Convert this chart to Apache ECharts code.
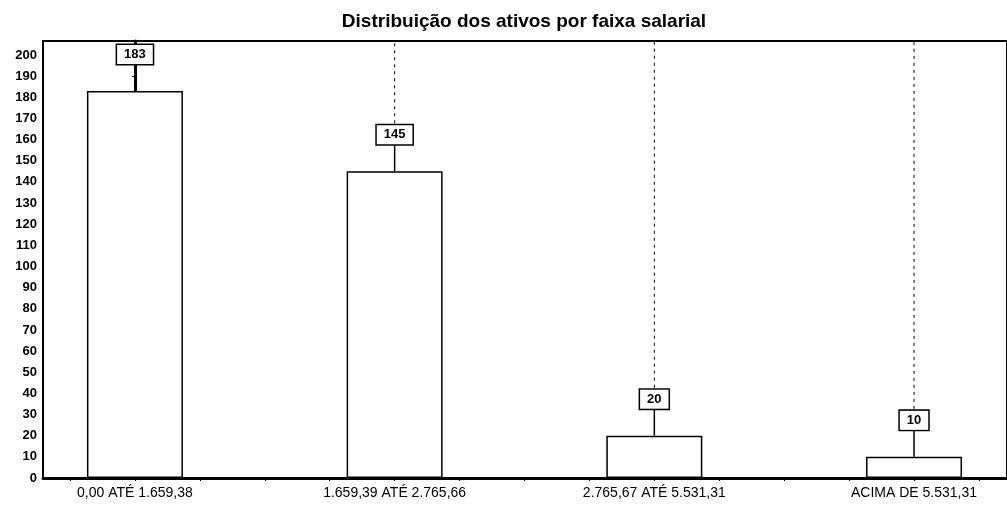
<!DOCTYPE html>
<html>
<head>
<meta charset="utf-8">
<script src="https://cdn.jsdelivr.net/npm/echarts@6/dist/echarts.min.js"></script>
<style>
  html, body { margin: 0; padding: 0; background: #fff; }
  #chart { width: 1007px; height: 506px; }
</style>
</head>
<body>
<div id="chart"></div>
<script>
// faixas salariais e quantidade de ativos
const categories = ['0,00 ATÉ 1.659,38', '1.659,39 ATÉ 2.765,66', '2.765,67 ATÉ 5.531,31', 'ACIMA DE 5.531,31'];
const values = [183, 145, 20, 10];
const yTicks = [0, 10, 20, 30, 40, 50, 60, 70, 80, 90, 100, 110, 120, 130, 140, 150, 160, 170, 180, 190, 200];
const xMinorTicks = [-0.25, 0, 0.25, 0.5, 0.75, 1, 1.25, 1.5, 1.75, 2, 2.25, 2.5, 2.75, 3, 3.25];

const points = values.map((v, i) => [i, v]);
const font = 'Liberation Sans, Arial, sans-serif';

const chart = echarts.init(document.getElementById('chart'));
chart.setOption({
  animation: false,
  title: {
    text: 'Distribuição dos ativos por faixa salarial',
    left: 519,
    top: 7,
    textAlign: 'center',
    textStyle: { fontFamily: font, fontSize: 19, fontWeight: 'bold', color: '#000' }
  },
  grid: {
    left: 43, right: 0, top: 41, bottom: 28,
    show: true, borderColor: '#000', borderWidth: 2, backgroundColor: '#fff'
  },
  xAxis: {
    type: 'value',
    min: -0.354,
    max: 3.358,
    splitLine: { show: false },
    axisLine: { show: true, lineStyle: { color: '#000', width: 3 } },
    axisTick: { show: true, length: 3, customValues: xMinorTicks, lineStyle: { color: '#000' } },
    axisLabel: {
      customValues: [0, 1, 2, 3],
      formatter: v => categories[Math.round(v)],
      color: '#000', fontFamily: font, fontSize: 14, margin: 8
    }
  },
  yAxis: {
    type: 'value',
    min: 0,
    max: 206.6,
    interval: 10,
    splitLine: { show: false },
    axisLine: { show: true, lineStyle: { color: '#000', width: 3 } },
    axisTick: { show: true, length: 3, customValues: yTicks, lineStyle: { color: '#000' } },
    axisLabel: {
      customValues: yTicks,
      color: '#000', fontFamily: font, fontSize: 13, fontWeight: 'bold', margin: 6
    }
  },
  series: [
    {
      // linhas de ligação: sólida até o rótulo, tracejada até o topo
      type: 'custom',
      data: points,
      z: 1,
      silent: true,
      renderItem: (params, api) => {
        const p = api.coord([api.value(0), api.value(1)]);
        const top = params.coordSys.y;
        const children = [{
          type: 'line',
          shape: { x1: p[0], y1: p[1], x2: p[0], y2: p[1] - 27 },
          style: { stroke: '#000', lineWidth: 1.5 }
        }];
        if (p[1] - 48 > top) {
          children.push({
            type: 'line',
            shape: { x1: p[0], y1: p[1] - 48, x2: p[0], y2: top },
            style: { stroke: '#000', lineWidth: 1, lineDash: [3, 4] }
          });
        }
        return { type: 'group', children };
      }
    },
    {
      type: 'bar',
      data: points,
      barWidth: 96,
      z: 2,
      itemStyle: { color: '#fff', borderColor: '#000', borderWidth: 1.5 },
      label: {
        show: true,
        position: 'top',
        distance: 27,
        formatter: p => p.value[1],
        color: '#000',
        fontFamily: font,
        fontSize: 13,
        fontWeight: 'bold',
        backgroundColor: '#fff',
        borderColor: '#000',
        borderWidth: 1.5,
        padding: [3, 7, 3, 7]
      }
    }
  ]
});
</script>
</body>
</html>
